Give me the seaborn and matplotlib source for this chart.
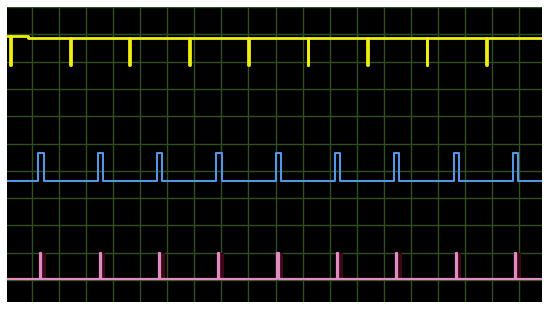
import numpy as np
import pandas as pd
import matplotlib
matplotlib.use("Agg")
import matplotlib.pyplot as plt
import seaborn as sns

# ---- data (time in grid divisions, level in grid divisions) ----
x_min, x_max = -0.91, 18.82
y_min, y_max = -0.79, 10.0

yellow_high = 8.88
yellow_high_start = 8.94
yellow_step_time = -0.14
yellow_low = 7.88
yellow_falls = [-0.79, 1.40, 3.60, 5.79, 7.99, 10.18, 12.38, 14.57, 16.77]
yellow_width = 0.035

blue_low = 3.64
blue_high = 4.64
blue_rises = [0.25, 2.44, 4.63, 6.82, 9.01, 11.19, 13.38, 15.57, 17.76]
blue_width = 0.19

pink_low = 0.03
pink_high = 1.0
pink_rises = [0.32, 2.51, 4.70, 6.89, 9.07, 11.26, 13.45, 15.64, 17.83]
pink_width = 0.04


def yellow_steps():
    t, v = [x_min], [yellow_high_start]
    for f in yellow_falls:
        hi = yellow_high_start if f < yellow_step_time else yellow_high
        t += [f, f + yellow_width]
        v += [yellow_low, hi]
        if f < yellow_step_time < yellow_falls[1]:
            t.append(yellow_step_time)
            v.append(yellow_high)
    t.append(x_max)
    v.append(yellow_high)
    return pd.DataFrame({"t": t, "v": v})


def pulse_steps(rises, width, low, high):
    t, v = [x_min], [low]
    for r in rises:
        t += [r, r + width]
        v += [high, low]
    t.append(x_max)
    v.append(low)
    return pd.DataFrame({"t": t, "v": v})


sns.set_style("dark")
fig = plt.figure(figsize=(5.5, 3.09), dpi=100, facecolor="white")
ax = fig.add_axes([7 / 550, 7.3 / 309, 534.7 / 550, 294.7 / 309])
ax.set_facecolor("black")

# pink pulse shadow (dark red smear to the right of each pulse)
for r in pink_rises:
    ax.fill_between([r + pink_width, r + pink_width + 0.17], pink_low, pink_high,
                    color="#3c0816", lw=0, zorder=1)

common = dict(x="t", y="v", sort=False, estimator=None, ax=ax,
              drawstyle="steps-post", legend=False, zorder=3)
sns.lineplot(data=yellow_steps(), color="#eeee10", linewidth=2.0, **common)
sns.lineplot(data=pulse_steps(blue_rises, blue_width, blue_low, blue_high),
             color="#5595e6", linewidth=1.5, **common)
sns.lineplot(data=pulse_steps(pink_rises, pink_width, pink_low, pink_high),
             color="#e08cc2", linewidth=1.6, **common)

ax.set_xlim(x_min, x_max)
ax.set_ylim(y_min, y_max)
ax.set_xticks(range(0, 19))
ax.set_yticks(range(0, 11))
ax.grid(True, color="#2f4f1f", linewidth=1.0, zorder=0)
ax.set_axisbelow(True)
ax.tick_params(length=0, labelbottom=False, labelleft=False)
ax.set_xlabel("")
ax.set_ylabel("")
for s in ax.spines.values():
    s.set_visible(False)

fig.savefig("out.png", dpi=100, facecolor="white")
